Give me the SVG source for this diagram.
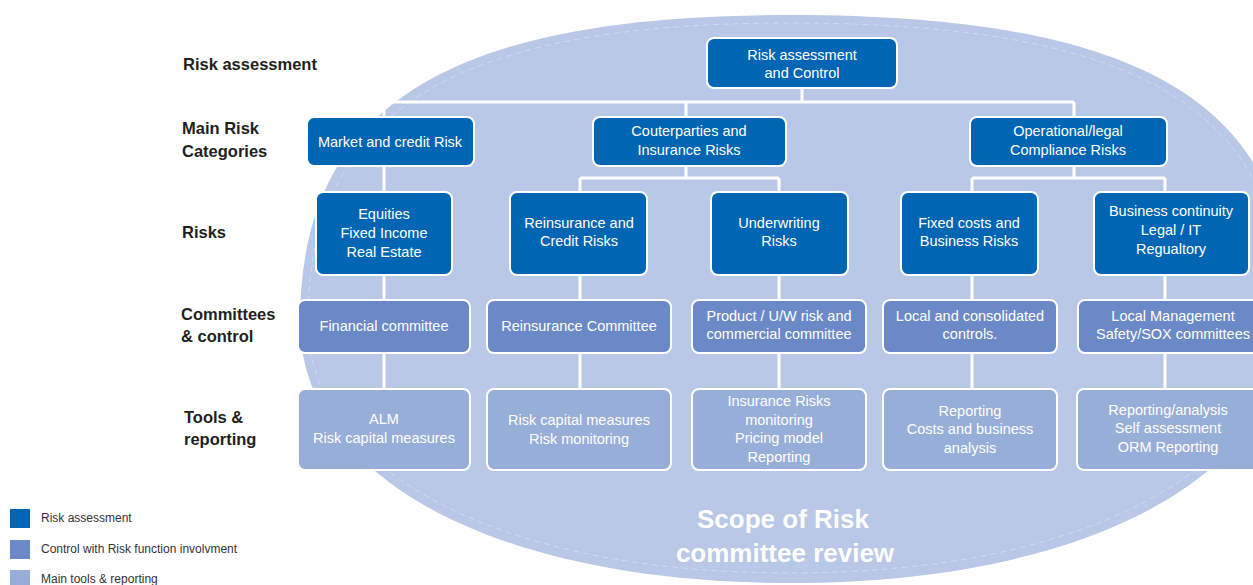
<svg xmlns="http://www.w3.org/2000/svg" width="1253" height="585" viewBox="0 0 1253 585">
<style>
.bg{fill:#B9C8E6}
.edge{fill:none;stroke:#FFFFFF;stroke-width:1;stroke-dasharray:6 4;opacity:0.35}
.d{fill:#0065B3;stroke:#FFFFFF;stroke-width:2}
.m{fill:#6B89C6;stroke:#FFFFFF;stroke-width:2}
.l{fill:#97AED9;stroke:#FFFFFF;stroke-width:2}
.t{font-family:"Liberation Sans",Arial,sans-serif;font-size:14.5px;fill:#FFFFFF;text-anchor:middle}
.lab{font-family:"Liberation Sans",Arial,sans-serif;font-size:16.5px;font-weight:bold;fill:#231F20}
.leg{font-family:"Liberation Sans",Arial,sans-serif;font-size:12px;fill:#333333}
.title{font-family:"Liberation Sans",Arial,sans-serif;font-size:26px;font-weight:bold;fill:#FFFFFF;text-anchor:middle}
.c{fill:none;stroke:#FFFFFF;stroke-width:3}
</style>
<g id="scope">
<path class="bg" d="M300,322 C300,106 447,15 790,15 C1140,15 1290,103 1290,310 C1290,474 1090,583 790,583 C496,583 300,478 300,322 Z"/>
<path class="edge" d="M308,322 C308,112 452,23 790,23 C1134,23 1282,108 1282,310 C1282,468 1086,573 790,573 C500,573 308,472 308,322 Z"/>
<text class="title" x="783" y="528">Scope of Risk</text>
<text class="title" x="785" y="562">committee review</text>
</g>
<g id="row-labels">
<text class="lab" x="183" y="70">Risk assessment</text>
<text class="lab" x="182" y="134">Main Risk</text>
<text class="lab" x="182" y="157">Categories</text>
<text class="lab" x="182" y="238">Risks</text>
<text class="lab" x="181" y="320">Committees</text>
<text class="lab" x="181" y="342">&amp; control</text>
<text class="lab" x="184" y="423">Tools &amp;</text>
<text class="lab" x="184" y="445">reporting</text>
</g>
<g id="connectors">
<path class="c" d="M802,88 V102 M384,102 H1074 M384,102 V117 M686,102 V117 M1074,102 V117"/>
<path class="c" d="M384,166 V192"/>
<path class="c" d="M686,166 V178 M580,178 H779 M580,178 V192 M779,178 V192"/>
<path class="c" d="M1074,166 V178 M972,178 H1165 M972,178 V192 M1165,178 V192"/>
<path class="c" d="M384,275 V389 M580,275 V389 M779,275 V389 M972,275 V389 M1165,275 V389"/>
</g>
<g id="n-top">
<rect class="d" x="707" y="38" width="190" height="50" rx="7"/>
<text class="t" x="802" y="60">Risk assessment</text>
<text class="t" x="802" y="78">and Control</text>
</g>
<g id="n-market">
<rect class="d" x="307" y="117" width="167" height="49" rx="7"/>
<text class="t" x="390" y="147">Market and credit Risk</text>
</g>
<g id="n-counter">
<rect class="d" x="593" y="117" width="193" height="49" rx="7"/>
<text class="t" x="689" y="136">Couterparties and</text>
<text class="t" x="689" y="155">Insurance Risks</text>
</g>
<g id="n-oper">
<rect class="d" x="970" y="117" width="197" height="49" rx="7"/>
<text class="t" x="1068" y="136">Operational/legal</text>
<text class="t" x="1068" y="155">Compliance Risks</text>
</g>
<g id="n-equities">
<rect class="d" x="316" y="192" width="136" height="83" rx="7"/>
<text class="t" x="384" y="219">Equities</text>
<text class="t" x="384" y="238">Fixed Income</text>
<text class="t" x="384" y="257">Real Estate</text>
</g>
<g id="n-reins">
<rect class="d" x="510" y="192" width="137" height="83" rx="7"/>
<text class="t" x="579" y="228">Reinsurance and</text>
<text class="t" x="579" y="246">Credit Risks</text>
</g>
<g id="n-underw">
<rect class="d" x="711" y="192" width="137" height="83" rx="7"/>
<text class="t" x="779" y="228">Underwriting</text>
<text class="t" x="779" y="246">Risks</text>
</g>
<g id="n-fixed">
<rect class="d" x="901" y="192" width="137" height="83" rx="7"/>
<text class="t" x="969" y="228">Fixed costs and</text>
<text class="t" x="969" y="246">Business Risks</text>
</g>
<g id="n-bcont">
<rect class="d" x="1094" y="192" width="155" height="83" rx="7"/>
<text class="t" x="1171" y="216">Business continuity</text>
<text class="t" x="1171" y="235">Legal / IT</text>
<text class="t" x="1171" y="254">Regualtory</text>
</g>
<g id="n-fincom">
<rect class="m" x="298" y="300" width="172" height="53" rx="7"/>
<text class="t" x="384" y="331">Financial committee</text>
</g>
<g id="n-reincom">
<rect class="m" x="487" y="300" width="184" height="53" rx="7"/>
<text class="t" x="579" y="331">Reinsurance Committee</text>
</g>
<g id="n-prodcom">
<rect class="m" x="692" y="300" width="174" height="53" rx="7"/>
<text class="t" x="779" y="321">Product / U/W risk and</text>
<text class="t" x="779" y="339">commercial committee</text>
</g>
<g id="n-localcons">
<rect class="m" x="883" y="300" width="174" height="53" rx="7"/>
<text class="t" x="970" y="321">Local and consolidated</text>
<text class="t" x="970" y="339">controls.</text>
</g>
<g id="n-localmgmt">
<rect class="m" x="1078" y="300" width="190" height="53" rx="7"/>
<text class="t" x="1173" y="321">Local Management</text>
<text class="t" x="1173" y="339">Safety/SOX committees</text>
</g>
<g id="n-alm">
<rect class="l" x="298" y="389" width="172" height="81" rx="7"/>
<text class="t" x="384" y="424">ALM</text>
<text class="t" x="384" y="443">Risk capital measures</text>
</g>
<g id="n-riskcap">
<rect class="l" x="487" y="389" width="184" height="81" rx="7"/>
<text class="t" x="579" y="425">Risk capital measures</text>
<text class="t" x="579" y="444">Risk monitoring</text>
</g>
<g id="n-insmon">
<rect class="l" x="692" y="389" width="174" height="81" rx="7"/>
<text class="t" x="779" y="406">Insurance Risks</text>
<text class="t" x="779" y="425">monitoring</text>
<text class="t" x="779" y="443">Pricing model</text>
<text class="t" x="779" y="462">Reporting</text>
</g>
<g id="n-reporting">
<rect class="l" x="883" y="389" width="174" height="81" rx="7"/>
<text class="t" x="970" y="416">Reporting</text>
<text class="t" x="970" y="434">Costs and business</text>
<text class="t" x="970" y="453">analysis</text>
</g>
<g id="n-repanalysis">
<rect class="l" x="1077" y="389" width="190" height="81" rx="7"/>
<text class="t" x="1168" y="415">Reporting/analysis</text>
<text class="t" x="1168" y="433">Self assessment</text>
<text class="t" x="1168" y="452">ORM Reporting</text>
</g>
<g id="legend">
<rect x="10" y="509" width="20" height="19" fill="#0065B3"/>
<text class="leg" x="41" y="522">Risk assessment</text>
<rect x="10" y="540" width="20" height="19" fill="#6B89C6"/>
<text class="leg" x="41" y="553">Control with Risk function involvment</text>
<rect x="10" y="570" width="20" height="19" fill="#97AED9"/>
<text class="leg" x="41" y="583">Main tools &amp; reporting</text>
</g>
</svg>
